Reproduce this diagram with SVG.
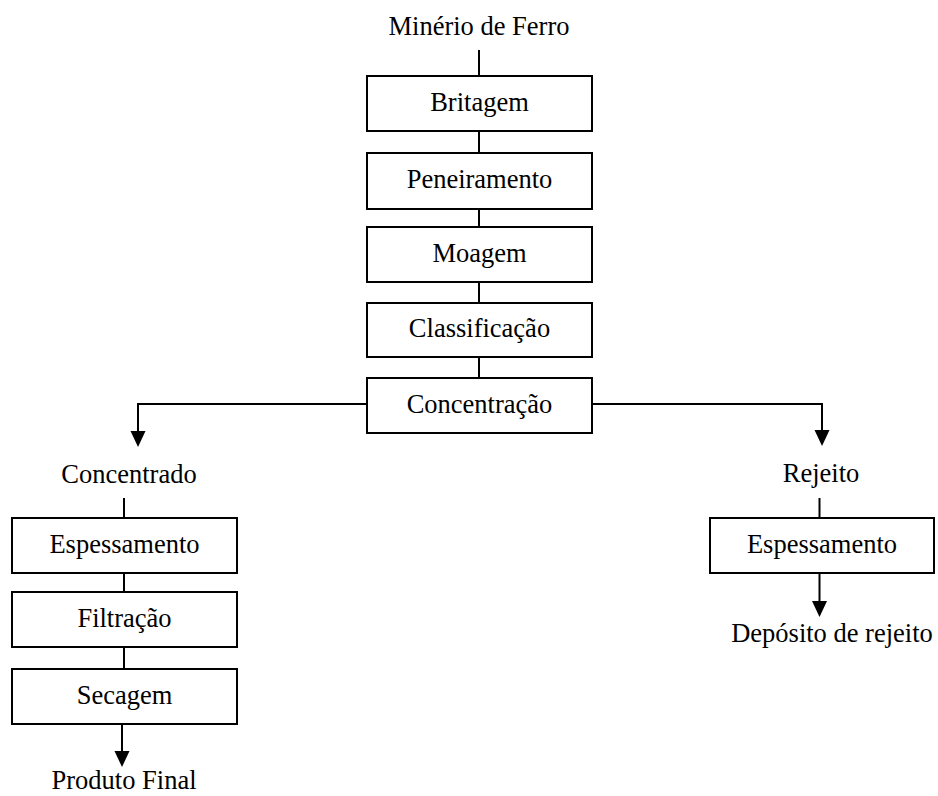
<svg xmlns="http://www.w3.org/2000/svg" width="938" height="796" viewBox="0 0 938 796">
<style>
.box{fill:#fff;stroke:#000;stroke-width:2}
.t{font-family:"Liberation Serif","Times New Roman",serif;font-size:26.5px;fill:#000;text-anchor:middle}
.c{fill:none;stroke:#000;stroke-width:2}
.ah{fill:#000}
</style>
<rect width="938" height="796" fill="#fff"/>
<g id="connectors">
<line class="c" x1="479" y1="50" x2="479" y2="76"/>
<line class="c" x1="479" y1="131" x2="479" y2="153"/>
<line class="c" x1="479" y1="209" x2="479" y2="227"/>
<line class="c" x1="479" y1="282" x2="479" y2="303"/>
<line class="c" x1="479" y1="357" x2="479" y2="378"/>
<path class="c" d="M367,404 H138 V432"/>
<polygon class="ah" points="130.5,431 145.5,431 138,447"/>
<path class="c" d="M592,404 H822 V431"/>
<polygon class="ah" points="814.5,430 829.5,430 822,446"/>
<line class="c" x1="124" y1="498" x2="124" y2="518"/>
<line class="c" x1="124" y1="573" x2="124" y2="592"/>
<line class="c" x1="124" y1="647" x2="124" y2="669"/>
<line class="c" x1="122" y1="724" x2="122" y2="752"/>
<polygon class="ah" points="114.5,751 129.5,751 122,767"/>
<line class="c" x1="819.5" y1="498" x2="819.5" y2="518"/>
<line class="c" x1="819.5" y1="573" x2="819.5" y2="602"/>
<polygon class="ah" points="812,601 827,601 819.5,617"/>
</g>
<g id="minerio"><text class="t" x="479" y="35">Minério de Ferro</text></g>
<g id="britagem"><rect class="box" x="367" y="76" width="225" height="55"/><text class="t" x="479.5" y="111">Britagem</text></g>
<g id="peneiramento"><rect class="box" x="367" y="153" width="225" height="56"/><text class="t" x="479.5" y="188">Peneiramento</text></g>
<g id="moagem"><rect class="box" x="367" y="227" width="225" height="55"/><text class="t" x="479.5" y="262">Moagem</text></g>
<g id="classificacao"><rect class="box" x="367" y="303" width="225" height="54"/><text class="t" x="479.5" y="337">Classificação</text></g>
<g id="concentracao"><rect class="box" x="367" y="378" width="225" height="55"/><text class="t" x="479.5" y="413">Concentração</text></g>
<g id="concentrado"><text class="t" x="129" y="483">Concentrado</text></g>
<g id="rejeito"><text class="t" x="821" y="482">Rejeito</text></g>
<g id="espessamento1"><rect class="box" x="12" y="518" width="225" height="55"/><text class="t" x="124.5" y="553">Espessamento</text></g>
<g id="filtracao"><rect class="box" x="12" y="592" width="225" height="55"/><text class="t" x="124.5" y="627">Filtração</text></g>
<g id="secagem"><rect class="box" x="12" y="669" width="225" height="55"/><text class="t" x="124.5" y="704">Secagem</text></g>
<g id="produto"><text class="t" x="124" y="789">Produto Final</text></g>
<g id="espessamento2"><rect class="box" x="710" y="518" width="224" height="55"/><text class="t" x="822" y="553">Espessamento</text></g>
<g id="deposito"><text class="t" x="832" y="642">Depósito de rejeito</text></g>
</svg>
